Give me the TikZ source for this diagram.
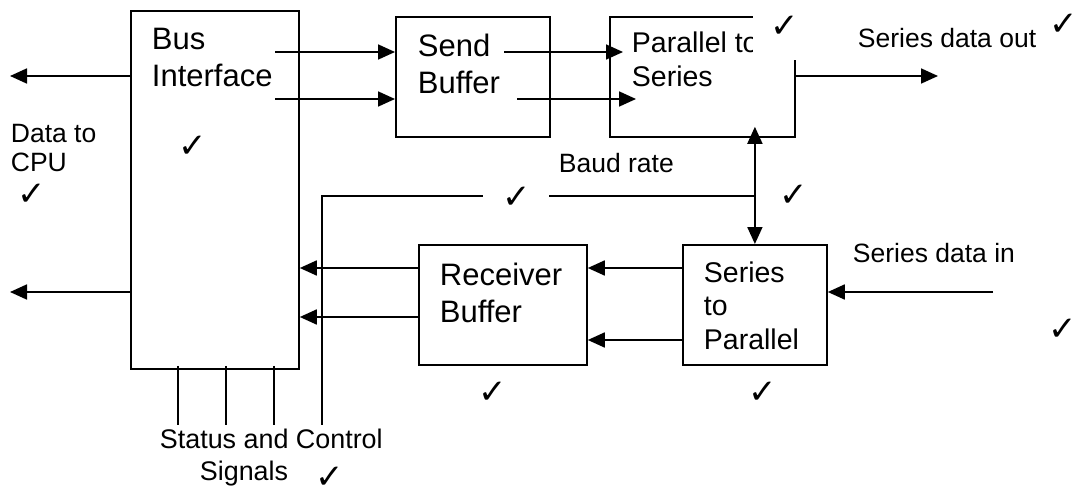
\documentclass[tikz,border=0pt]{standalone}
\usepackage{fontspec}
\setmainfont{Liberation Sans}
\newfontfamily\tickfont{DejaVu Sans}
\usetikzlibrary{arrows.meta,positioning}

\begin{document}
\begin{tikzpicture}[x=1pt,y=-1pt,line width=1.8pt,
  blk/.style={draw,inner sep=0pt,anchor=north west},
  big/.style={font=\fontsize{31}{37}\selectfont,align=left,anchor=base west,inner sep=0pt},
  mid/.style={font=\fontsize{28.5}{34}\selectfont,align=left,anchor=base west,inner sep=0pt},
  lab/.style={font=\fontsize{26.5}{29}\selectfont,align=left,anchor=base west,inner sep=0pt},
  tick/.style={font={\tickfont\fontsize{34}{34}\selectfont},inner sep=0pt},
  cover/.style={fill=white,inner sep=0pt},
  ar/.style={-{Triangle[length=17pt,width=15pt]}},
  dar/.style={{Triangle[length=17pt,width=15pt]}-{Triangle[length=17pt,width=15pt]}}]
  \useasboundingbox (0,0) rectangle (1077,495);

  % blocks
  \node[blk,minimum width=168pt,minimum height=358pt] (bus) at (130,10) {};
  \node[blk,minimum width=154pt,minimum height=120pt] (send) at (395,16) {};
  \node[blk,minimum width=185pt,minimum height=120pt] (par) at (609,16) {};
  \node[blk,minimum width=168pt,minimum height=120pt] (recv) at (418,244) {};
  \node[blk,minimum width=144pt,minimum height=120pt] (ser) at (682,244) {};

  \node[big] (bustxt) at (151,87) {Bus\\Interface};
  \node[big] (sendtxt) at (417,93) {Send\\Buffer};
  \node[mid] (partxt) at (631,87) {Parallel to\\Series};
  \node[big] (recvtxt) at (439,322) {Receiver\\Buffer};
  \node[mid,font=\fontsize{28.5}{33.5}\selectfont] (sertxt) at (703,349) {Series\\to\\Parallel};

  % send side
  \coordinate (b1) at (275,52);
  \coordinate (b2) at (275,99);
  \coordinate (s1) at (504,52);
  \coordinate (s2) at (517,99);
  \draw[ar] (b1) -- (b1 -| send.west);
  \draw[ar] (b2) -- (b2 -| send.west);
  \draw[ar] (s1) -- ([xshift=14pt]s1 -| par.west);
  \draw[ar] (s2) -- ([xshift=27pt]s2 -| par.west);
  \coordinate (sout) at (938,76);
  \draw[ar] (sout -| par.east) -- (sout);
  \node[lab] (souttxt) at (857,48) {Series data out};

  % receive side
  \draw[ar] (ser.west |- 0,268) -- (recv.east |- 0,268);
  \draw[ar] (ser.west |- 0,340) -- (recv.east |- 0,340);
  \draw[ar] (recv.west |- 0,268) -- (bus.east |- 0,268);
  \draw[ar] (recv.west |- 0,317) -- (bus.east |- 0,317);
  \coordinate (sin) at (993,292);
  \draw[ar] (sin) -- (sin -| ser.east);
  \node[lab] (sintxt) at (852,262) {Series data in};

  % baud rate and control
  \coordinate (bd) at (ser.north |- 0,196);
  \coordinate (ctl) at (322,425);
  \draw[dar] ([yshift=11pt]ser.north |- par.south) -- (ser.north);
  \draw (bd) -- (bd -| ctl) -- (ctl);
  \node[lab] (baudtxt) at (558,172) {Baud rate};

  % cpu side
  \coordinate (cpu1) at (10,76);
  \coordinate (cpu2) at (10,292);
  \draw[ar] (bus.west |- cpu1) -- (cpu1);
  \draw[ar] (bus.west |- cpu2) -- (cpu2);
  \node[lab] (cputxt) at (10,171) {Data to\\CPU};

  \foreach \x in {178,226,274}
    \draw ([yshift=4pt]bus.south -| \x,0) -- (\x,425);
  \node[lab,font=\fontsize{26.9}{30}\selectfont] (stattxt) at (159,448) {Status and Control};
  \node[lab,font=\fontsize{26.9}{30}\selectfont] (sigtxt) at (199,480) {Signals};

  % ticks
  \node[cover,minimum width=62pt,minimum height=60pt] (occ) at (784,30) {};
  \node[cover,minimum width=66pt,minimum height=36pt] (gap) at (516,196) {};
  \node[tick] (t1) at (1064,25) {✓};
  \node[tick] (t2) at (785,27) {✓};
  \node[tick] (t3) at (193,147) {✓};
  \node[tick] (t4) at (32,195) {✓};
  \node[tick] (t5) at (517,198) {✓};
  \node[tick] (t6) at (794,196) {✓};
  \node[tick] (t7) at (1063,330) {✓};
  \node[tick] (t8) at (493,393) {✓};
  \node[tick] (t9) at (763,393) {✓};
  \node[tick] (t10) at (330,478) {✓};
\end{tikzpicture}
\end{document}
